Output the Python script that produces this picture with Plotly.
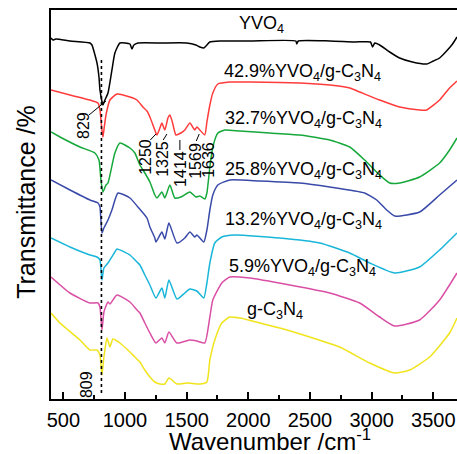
import plotly.graph_objects as go

# ---- data (wavenumber, offset transmittance a.u.) ----
wn_yvo4 = [400, 416, 440, 554, 716, 732, 773, 789, 797, 821, 837, 862, 894, 918, 959, 1040, 1056, 1072, 1105,
           1300, 1500, 1575, 1607, 1639, 1664, 1688, 1770, 2012, 2385, 2393, 2405, 2660, 2862, 2990, 3008, 3025,
           3065, 3146, 3227, 3330, 3446, 3500, 3551, 3600, 3656, 3692]
t_yvo4 = [361, 359, 360, 358, 356, 354, 336, 322, 309, 294, 299, 306, 329, 346, 356, 355, 350, 354, 356,
          356, 356, 354, 352, 351, 354, 357, 358, 358, 358, 355, 358, 358, 357, 357, 352, 356,
          354, 347, 341, 337, 335, 338, 341, 347, 355, 362]

wn_429 = [400, 554, 716, 781, 797, 813, 821, 829, 846, 878, 935, 1040, 1097, 1145, 1178, 1202, 1242, 1259, 1283,
          1299, 1323, 1348, 1364, 1384, 1413, 1453, 1485, 1526, 1566, 1583, 1607, 1647, 1664, 1688, 1712, 1753,
          1850, 2012, 2417, 2660, 2822, 2903, 3065, 3227, 3389, 3446, 3551, 3632, 3692]
t_429 = [309, 304, 299, 296, 289, 269, 262, 269, 284, 299, 305, 302, 299, 292, 288, 282, 269, 264, 271,
         276, 269, 281, 284, 277, 264, 266, 269, 276, 269, 272, 269, 264, 277, 294, 306, 315,
         317, 317, 316, 314, 311, 307, 299, 292, 289, 289, 299, 311, 318]

wn_327 = [400, 473, 635, 756, 789, 805, 821, 846, 862, 918, 959, 1040, 1080, 1121, 1161, 1202, 1242, 1259, 1299,
          1323, 1364, 1404, 1453, 1526, 1575, 1607, 1647, 1664, 1688, 1712, 1753, 1809, 1931, 2174, 2417, 2660,
          2822, 2943, 3065, 3146, 3227, 3389, 3551, 3632, 3692]
t_327 = [267, 262, 252, 246, 239, 219, 207, 214, 216, 246, 256, 251, 246, 234, 226, 217, 204, 201, 207,
         201, 214, 201, 202, 207, 202, 203, 200, 206, 232, 252, 266, 269, 268, 266, 264, 259,
         252, 239, 224, 216, 216, 222, 236, 249, 261]

wn_258 = [400, 554, 716, 781, 797, 813, 829, 862, 894, 943, 1040, 1105, 1178, 1202, 1242, 1251, 1299, 1323, 1356,
          1421, 1485, 1526, 1566, 1583, 1639, 1664, 1688, 1712, 1753, 1850, 2093, 2417, 2660, 2943, 3041, 3122,
          3186, 3389, 3551, 3692]
t_258 = [219, 209, 199, 196, 192, 166, 171, 179, 189, 206, 201, 192, 181, 172, 161, 157, 167, 160, 176,
         156, 161, 167, 162, 164, 157, 169, 189, 204, 214, 219, 218, 216, 212, 206, 199, 189,
         183, 187, 204, 219]

wn_132 = [400, 554, 716, 773, 797, 813, 829, 862, 918, 935, 1040, 1097, 1121, 1161, 1202, 1251, 1299, 1323, 1356,
          1421, 1485, 1526, 1583, 1639, 1664, 1688, 1728, 1785, 1890, 2255, 2579, 2822, 2984, 3186, 3389, 3551,
          3692]
t_132 = [161, 152, 144, 142, 139, 119, 131, 136, 147, 150, 144, 137, 134, 124, 114, 101, 111, 101, 119,
         100, 106, 110, 108, 101, 116, 136, 156, 162, 164, 161, 156, 146, 136, 126, 132, 149,
         166]

wn_59 = [400, 554, 716, 781, 797, 813, 829, 846, 862, 878, 935, 1040, 1097, 1121, 1161, 1202, 1251, 1299, 1323,
         1356, 1421, 1526, 1583, 1647, 1688, 1712, 1785, 1850, 2012, 2336, 2660, 2903, 3065, 3186, 3389, 3551,
         3692]
t_59 = [122, 106, 96, 96, 92, 69, 87, 93, 97, 95, 104, 97, 89, 86, 76, 66, 56, 61, 56,
        67, 56, 59, 58, 56, 82, 99, 116, 122, 121, 114, 106, 96, 82, 73, 79, 99,
        126]

wn_gcn = [400, 473, 635, 716, 773, 797, 813, 829, 854, 878, 902, 959, 1040, 1080, 1121, 1161, 1202, 1242, 1283,
          1323, 1356, 1421, 1500, 1607, 1664, 1688, 1728, 1785, 1850, 1931, 2093, 2255, 2498, 2741, 2984, 3186,
          3308, 3470, 3632, 3692]
t_gcn = [86, 76, 59, 49, 49, 44, 24, 42, 61, 52, 60, 56, 47, 42, 37, 29, 22, 17, 15,
         15, 21, 15, 16, 15, 17, 39, 59, 76, 82, 81, 76, 71, 62, 52, 36, 26,
         29, 42, 66, 81]

series = [
    ("YVO<sub>4</sub>", wn_yvo4, t_yvo4, "#000000", 1907, 375),
    ("42.9%YVO<sub>4</sub>/g-C<sub>3</sub>N<sub>4</sub>", wn_429, t_429, "#ff3b3b", 1785, 327),
    ("32.7%YVO<sub>4</sub>/g-C<sub>3</sub>N<sub>4</sub>", wn_327, t_327, "#16a83a", 1793, 280),
    ("25.8%YVO<sub>4</sub>/g-C<sub>3</sub>N<sub>4</sub>", wn_258, t_258, "#3a4aa8", 1793, 229),
    ("13.2%YVO<sub>4</sub>/g-C<sub>3</sub>N<sub>4</sub>", wn_132, t_132, "#19b6d9", 1793, 179),
    ("5.9%YVO<sub>4</sub>/g-C<sub>3</sub>N<sub>4</sub>", wn_59, t_59, "#d94fa5", 1826, 132),
    ("g-C<sub>3</sub>N<sub>4</sub>", wn_gcn, t_gcn, "#f0e41c", 1971, 89),
]

# peak labels: text, x, y
peak_labels = [("829", 659, 274), ("1250", 1161, 242), ("1325", 1299, 240),
               ("1414", 1445, 230), ("1569", 1566, 238), ("1636", 1672, 239), ("809", 684, 14)]
leaders = [(708, 284, 846, 298), (1205, 259, 1251, 265), (1310, 259, 1340, 265),
           (1445, 249, 1445, 259), (1578, 258, 1602, 265)]

FONT = "Liberation Sans, Arial, sans-serif"

fig = go.Figure()
for name, wx, ty, col, lx, ly in series:
    fig.add_trace(go.Scatter(x=wx, y=ty, mode="lines", name=name,
                             line=dict(color=col, width=1.5, shape="spline", smoothing=0.5),
                             showlegend=False, hoverinfo="skip"))

annotations = []
for name, wx, ty, col, lx, ly in series:
    annotations.append(dict(x=lx, y=ly, xref="x", yref="y", text=name, showarrow=False,
                            xanchor="left", yanchor="middle",
                            font=dict(family=FONT, size=18, color="black")))
for txt, px, py in peak_labels:
    annotations.append(dict(x=px, y=py, xref="x", yref="y", text=txt, showarrow=False,
                            textangle=-90, xanchor="center", yanchor="middle",
                            font=dict(family=FONT, size=16, color="black")))

annotations.append(dict(x=-0.06, y=0.506, xref="paper", yref="paper", text="Transmittance /%",
                        showarrow=False, textangle=-90, xanchor="center", yanchor="middle",
                        font=dict(family=FONT, size=25, color="black")))
annotations.append(dict(x=0.539, y=-0.106, xref="paper", yref="paper",
                        text="Wavenumber /cm<sup>-1</sup>",
                        showarrow=False, xanchor="center", yanchor="middle",
                        font=dict(family=FONT, size=24, color="black")))

shapes = [dict(type="line", xref="x", yref="y", x0=809, x1=809, y0=339, y1=4,
               line=dict(color="black", width=1.6, dash="dot"))]
for x0, y0, x1, y1 in leaders:
    shapes.append(dict(type="line", xref="x", yref="y", x0=x0, y0=y0, x1=x1, y1=y1,
                       line=dict(color="black", width=1)))

fig.update_layout(
    width=457, height=454,
    margin=dict(l=51, r=0, t=10, b=55),
    paper_bgcolor="white", plot_bgcolor="white",
    annotations=annotations, shapes=shapes,
    xaxis=dict(range=[400, 3692], showline=True, linewidth=2, linecolor="black", mirror=True,
               ticks="inside", ticklen=7, tickwidth=1.5, tickcolor="black",
               tick0=500, dtick=500, showgrid=False, zeroline=False, ticklabelstandoff=2,
               minor=dict(ticks="inside", ticklen=4, tickwidth=1.5, dtick=250, tick0=250, tickcolor="black"),
               tickfont=dict(family=FONT, size=20, color="black")),
    yaxis=dict(range=[0, 389], showline=True, linewidth=2, linecolor="black",
               ticks="", showticklabels=False, showgrid=False, zeroline=False),
)

fig.write_html("out.html")
